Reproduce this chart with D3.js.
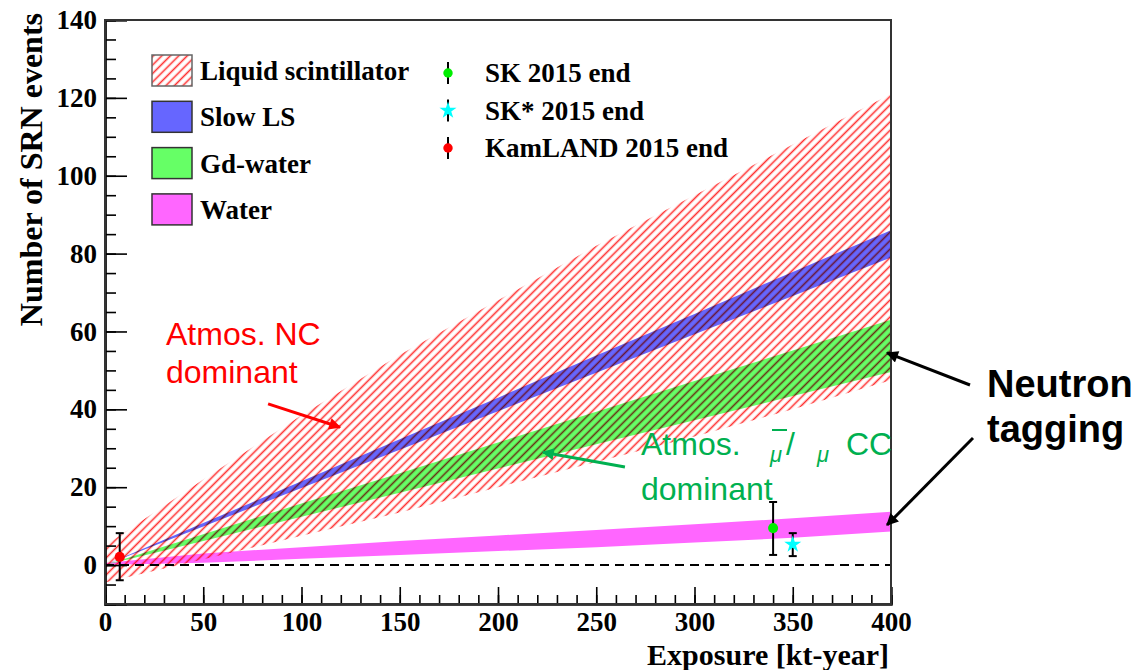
<!DOCTYPE html>
<html>
<head>
<meta charset="utf-8">
<script src="https://cdn.jsdelivr.net/npm/d3@7"></script>
<style>
	body { margin: 0; background: #fff; }
	svg text { font-family: "Liberation Serif", "Times New Roman", serif; font-weight: bold; }
	svg text.note { font-family: "Liberation Sans", Arial, sans-serif; font-weight: normal; }
</style>
</head>
<body>
<svg id="chart" width="1138" height="670"></svg>
<script>
// exposure grid [kt-year] and band edges [events]
var exposure = [0, 50, 100, 150, 200, 250, 300, 350, 400];
var lsUpper = [5, 22, 38.5, 54, 68, 82, 95, 108, 121];
var lsLower = [-4.5, 1.5, 7.5, 13.5, 20, 26.5, 33, 40, 47.5];
var slowUpper = [0, 10.8, 21.5, 32.3, 43, 53.8, 64.5, 75.3, 86];
var slowLower = [0, 9.9, 19.8, 29.6, 39.5, 49.4, 59.3, 69.1, 79];
var gdUpper = [0, 7.9, 15.8, 23.6, 31.5, 39.4, 47.3, 55.1, 63];
var gdLower = [0, 6.2, 12.4, 18.6, 24.8, 31, 37.2, 43.4, 49.6];
var waterUpper = [0.5, 3, 4.6, 6.2, 7.6, 9, 10.5, 12, 13.7];
var waterLower = [0, 0.6, 1.6, 2.6, 3.6, 4.6, 5.8, 7, 8.6];

// measured points: name, exposure, value, error low, error high
var pointNames = ["SK 2015 end", "SK* 2015 end", "KamLAND 2015 end"];
var pointX = [340, 350, 7.5];
var pointY = [9.5, 5.3, 2.1];
var pointLo = [2.6, 2.3, -3.9];
var pointHi = [16.2, 8.2, 8.2];

var bandNames = ["Liquid scintillator", "Slow LS", "Gd-water", "Water"];
var xTicks = [0, 50, 100, 150, 200, 250, 300, 350, 400];
var yTicks = [0, 20, 40, 60, 80, 100, 120, 140];

var margin = {top: 20, right: 247, bottom: 66, left: 105},
	width = 1138 - margin.left - margin.right,
	height = 670 - margin.top - margin.bottom;

var svg = d3.select("#chart");
var x = d3.scaleLinear().domain([0, 400]).range([margin.left, margin.left + width]);
var y = d3.scaleLinear().domain([-10, 140]).range([margin.top + height, margin.top]);

var defs = svg.append("defs");
defs.append("pattern")
	.attr("id", "hatch")
	.attr("patternUnits", "userSpaceOnUse")
	.attr("width", 6)
	.attr("height", 6)
	.attr("patternTransform", "rotate(45)")
	.append("line")
	.attr("x1", 1.5).attr("y1", 0)
	.attr("x2", 1.5).attr("y2", 6)
	.attr("stroke", "#ff3030")
	.attr("stroke-width", 1.6);
defs.append("clipPath").attr("id", "frame")
	.append("rect")
	.attr("x", margin.left).attr("y", margin.top)
	.attr("width", width).attr("height", height);

function arrowMarker(id, color, len, wid) {
	defs.append("marker")
		.attr("id", id)
		.attr("markerUnits", "userSpaceOnUse")
		.attr("viewBox", "0 0 10 10")
		.attr("refX", 9).attr("refY", 5)
		.attr("markerWidth", len).attr("markerHeight", wid)
		.attr("orient", "auto")
		.append("path")
		.attr("d", "M0,0L10,5L0,10z")
		.attr("fill", color);
}
arrowMarker("arrRed", "#ff0000", 16, 12);
arrowMarker("arrGreen", "#00b050", 16, 12);
arrowMarker("arrBlack", "#000", 16, 12);

function band(upper, lower) {
	return d3.area()
		.x(function(d, i) { return x(exposure[i]); })
		.y0(function(d, i) { return y(lower[i]); })
		.y1(function(d, i) { return y(upper[i]); })(exposure);
}

var plot = svg.append("g").attr("clip-path", "url(#frame)");
plot.append("path").attr("d", band(waterUpper, waterLower)).attr("fill", "#ff66ff");
plot.append("path").attr("d", band(gdUpper, gdLower)).attr("fill", "#66ff66");
plot.append("path").attr("d", band(slowUpper, slowLower)).attr("fill", "#6666ff");
plot.append("path").attr("d", band(lsUpper, lsLower))
	.attr("fill", "url(#hatch)")
	.style("mix-blend-mode", "multiply");

// zero line
plot.append("line")
	.attr("x1", x(0)).attr("x2", x(400))
	.attr("y1", y(0)).attr("y2", y(0))
	.attr("stroke", "#000")
	.attr("stroke-width", 2)
	.attr("stroke-dasharray", "9,6");

// axes, ticks inward like ROOT
var yMinor = d3.range(-10, 141, 5);
var xMinor = d3.range(0, 401, 10);
svg.append("g")
	.attr("transform", "translate(" + margin.left + ",0)")
	.call(d3.axisLeft(y).tickValues(yMinor).tickSize(-11).tickFormat(""));
svg.append("g")
	.attr("class", "yaxis")
	.attr("transform", "translate(" + margin.left + ",0)")
	.call(d3.axisLeft(y).tickValues(yTicks).tickSize(-22).tickPadding(8));
svg.append("g")
	.attr("transform", "translate(0," + (margin.top + height) + ")")
	.call(d3.axisBottom(x).tickValues(xMinor).tickSize(-9).tickFormat(""));
svg.append("g")
	.attr("class", "xaxis")
	.attr("transform", "translate(0," + (margin.top + height) + ")")
	.call(d3.axisBottom(x).tickValues(xTicks).tickSize(-17).tickPadding(8));
svg.selectAll(".tick line").attr("stroke", "#000").attr("stroke-width", 1.6);
svg.selectAll(".domain").attr("stroke", "#000").attr("stroke-width", 2.2);
svg.selectAll(".yaxis text, .xaxis text")
	.style("font-size", "27px")
	.attr("fill", "#000");

svg.append("rect")
	.attr("x", margin.left).attr("y", margin.top)
	.attr("width", width).attr("height", height)
	.attr("fill", "none")
	.attr("stroke", "#333")
	.attr("stroke-width", 2);

svg.append("text")
	.attr("transform", "translate(42,13) rotate(-90)")
	.attr("text-anchor", "end")
	.style("font-size", "32px")
	.text("Number of SRN events");
svg.append("text")
	.attr("x", x(400) - 2)
	.attr("y", 665)
	.attr("text-anchor", "end")
	.style("font-size", "30px")
	.text("Exposure [kt-year]");

// data points with error bars
var markerColors = ["#00ee00", "#00ffff", "#ff0000"];
var markerTypes = [d3.symbolCircle, d3.symbolStar, d3.symbolCircle];
var pts = plot.selectAll(".pt").data(pointX).enter().append("g").attr("class", "pt");
pts.append("line")
	.attr("x1", function(d) { return x(d); })
	.attr("x2", function(d) { return x(d); })
	.attr("y1", function(d, i) { return y(pointLo[i]); })
	.attr("y2", function(d, i) { return y(pointHi[i]); })
	.attr("stroke", "#000").attr("stroke-width", 2);
[pointLo, pointHi].forEach(function(arr) {
	pts.append("line")
		.attr("x1", function(d) { return x(d) - 4; })
		.attr("x2", function(d) { return x(d) + 4; })
		.attr("y1", function(d, i) { return y(arr[i]); })
		.attr("y2", function(d, i) { return y(arr[i]); })
		.attr("stroke", "#000").attr("stroke-width", 2);
});
pts.append("path")
	.attr("transform", function(d, i) { return "translate(" + x(d) + "," + y(pointY[i]) + ")"; })
	.attr("d", function(d, i) { return d3.symbol().type(markerTypes[i]).size(i === 1 ? 90 : 80)(); })
	.attr("fill", function(d, i) { return markerColors[i]; });

// legend: bands
var leg = svg.append("g").selectAll("g").data(bandNames).enter().append("g")
	.attr("transform", function(d, i) { return "translate(152," + (55 + i * 46.3) + ")"; });
var bandFills = ["url(#hatch)", "#6666ff", "#66ff66", "#ff66ff"];
leg.append("rect")
	.attr("width", 40).attr("height", 31)
	.attr("fill", function(d, i) { return bandFills[i]; })
	.attr("stroke", function(d, i) { return i === 0 ? "#666" : "#333"; })
	.attr("stroke-width", 1.5);
leg.append("text")
	.attr("x", 48).attr("y", 25)
	.style("font-size", "27px")
	.text(function(d) { return d; });

// legend: points
var leg2 = svg.append("g").selectAll("g").data(pointNames).enter().append("g")
	.attr("transform", function(d, i) { return "translate(448," + (73 + i * 37.5) + ")"; });
leg2.append("line")
	.attr("y1", -11).attr("y2", 11)
	.attr("stroke", "#000").attr("stroke-width", 2);
leg2.append("path")
	.attr("d", function(d, i) { return d3.symbol().type(markerTypes[i]).size(i === 1 ? 90 : 70)(); })
	.attr("fill", function(d, i) { return markerColors[i]; });
leg2.append("text")
	.attr("x", 37).attr("y", 9)
	.style("font-size", "27px")
	.text(function(d) { return d; });

// annotations
var note = svg.append("g");
note.append("text").attr("class", "note")
	.attr("x", 166).attr("y", 345)
	.attr("fill", "#ff0000").style("font-size", "32px")
	.text("Atmos. NC");
note.append("text").attr("class", "note")
	.attr("x", 166).attr("y", 383)
	.attr("fill", "#ff0000").style("font-size", "32px")
	.text("dominant");
note.append("line")
	.attr("x1", x(83)).attr("y1", y(41.4))
	.attr("x2", x(119.6)).attr("y2", y(35.4))
	.attr("stroke", "#ff0000").attr("stroke-width", 3)
	.attr("marker-end", "url(#arrRed)");

var green = "#00b050";
note.append("text").attr("class", "note")
	.attr("x", 641).attr("y", 455)
	.attr("fill", green).style("font-size", "32px")
	.text("Atmos.");
note.append("line")
	.attr("x1", 772).attr("x2", 787).attr("y1", 430).attr("y2", 430)
	.attr("stroke", green).attr("stroke-width", 2);
note.append("text").attr("class", "note")
	.attr("x", 770).attr("y", 462)
	.attr("fill", green).style("font-size", "22px").style("font-style", "italic")
	.text("μ");
note.append("text").attr("class", "note")
	.attr("x", 786).attr("y", 455)
	.attr("fill", green).style("font-size", "32px")
	.text("/");
note.append("text").attr("class", "note")
	.attr("x", 817).attr("y", 462)
	.attr("fill", green).style("font-size", "22px").style("font-style", "italic")
	.text("μ");
note.append("text").attr("class", "note")
	.attr("x", 846).attr("y", 455)
	.attr("fill", green).style("font-size", "32px")
	.text("CC");
note.append("text").attr("class", "note")
	.attr("x", 641).attr("y", 500)
	.attr("fill", green).style("font-size", "32px")
	.text("dominant");
note.append("line")
	.attr("x1", x(264.6)).attr("y1", y(25.2))
	.attr("x2", x(222.9)).attr("y2", y(29))
	.attr("stroke", green).attr("stroke-width", 3)
	.attr("marker-end", "url(#arrGreen)");

note.append("text").attr("class", "note")
	.attr("x", 987).attr("y", 397)
	.style("font-size", "38px").style("font-weight", "bold")
	.text("Neutron");
note.append("text").attr("class", "note")
	.attr("x", 987).attr("y", 442)
	.style("font-size", "38px").style("font-weight", "bold")
	.text("tagging");
note.append("line")
	.attr("x1", 970).attr("y1", 385)
	.attr("x2", x(398)).attr("y2", y(54.5))
	.attr("stroke", "#000").attr("stroke-width", 3)
	.attr("marker-end", "url(#arrBlack)");
note.append("line")
	.attr("x1", 973).attr("y1", 438)
	.attr("x2", x(398)).attr("y2", y(10.3))
	.attr("stroke", "#000").attr("stroke-width", 3)
	.attr("marker-end", "url(#arrBlack)");
</script>
</body>
</html>
